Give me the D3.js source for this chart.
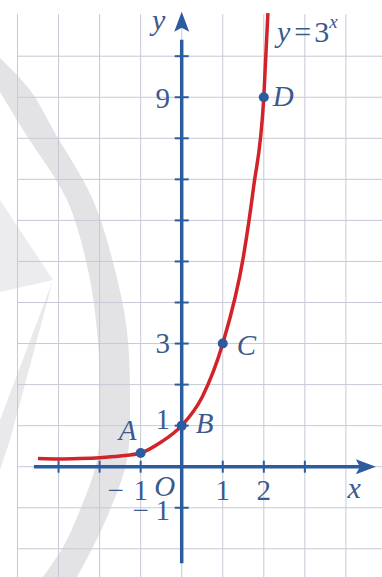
<!DOCTYPE html>
<html>
<head>
<meta charset="utf-8">
<script src="https://cdn.jsdelivr.net/npm/d3@7"></script>
<style>
  html, body { margin: 0; padding: 0; background: #fff; }
  svg { display: block; }
</style>
</head>
<body>
<svg id="chart" width="382" height="577"></svg>
<script>
// Graph of the exponential function y = 3^x on a square grid.

// Curve samples [x, y]
const curveX = [-3.5, -3, -2.5, -2, -1.5, -1, -0.5, 0, 0.5, 1, 1.5, 1.75, 2, 2.1];
const curveY = [0.2, 0.19, 0.2, 0.22, 0.26, 1 / 3, 0.6, 1, 1.7, 3, 5.1, 6.8, 9, 11.05];

// Marked points on the curve
const pointNames = ["A", "B", "C", "D"];
const pointX = [-1, 0, 1, 2];
const pointY = [1 / 3, 1, 3, 9];

// Grid and tick values
const gridX = [-4, -3, -2, -1, 0, 1, 2, 3, 4];
const gridY = [-2, -1, 0, 1, 2, 3, 4, 5, 6, 7, 8, 9, 10];
const xTicks = [-3, -2, -1, 1, 2, 3];
const yTicks = [-1, 1, 2, 3, 4, 5, 6, 7, 8, 9, 10];
const xTickLabels = ["1", "1", "2"];
const xTickLabelValues = [-1, 1, 2];
const yTickLabels = ["1", "1", "3", "9"];
const yTickLabelValues = [-1, 1, 3, 9];

const W = 382, H = 577;
const unit = 41.05;
const FONT = "'Liberation Serif', 'Times New Roman', Times, serif";
const textColor = "#3a5a8e";
const svg = d3.select("#chart").attr("font-family", FONT);

const x = d3.scaleLinear().domain([-4, 5]).range([181.7 - 4 * unit, 181.7 + 5 * unit]);
const y = d3.scaleLinear().domain([-3, 11]).range([466.7 + 3 * unit, 466.7 - 11 * unit]);

const axisColor = "#2d5b9f";
const curveColor = "#d2232a";

// --- faint background emblem ---
const emblem = svg.append("g");
const bandOuter = [[0, 58], [30, 90], [55, 133], [93, 200], [115, 270], [127, 331], [130, 400], [127, 460], [110, 510], [93, 547], [77, 577]];
const bandInner = [[0, 92], [25, 133], [67, 200], [88, 270], [97, 331], [100, 400], [97, 460], [80, 510], [63, 547], [43, 577]];
const smooth = d3.line().curve(d3.curveCatmullRom);
emblem.append("path")
  .attr("d", "M0,200L53,280L0,292Z")
  .attr("fill", "#ececee");
emblem.append("path")
  .attr("d", "M53,280L10,440L0,470L0,420Z")
  .attr("fill", "#e9e9eb");
emblem.append("path")
  .attr("d", smooth(bandOuter) + "L" + smooth(bandInner.slice().reverse()).slice(1) + "Z")
  .attr("fill", "#e3e3e5");

// --- grid ---
const grid = svg.append("g").attr("stroke", "#c6c9d6").attr("stroke-width", 1);
grid.selectAll("line.v").data(gridX).join("line")
  .attr("x1", d => x(d)).attr("x2", d => x(d))
  .attr("y1", y(11) - 1).attr("y2", H);
grid.selectAll("line.h").data(gridY).join("line")
  .attr("x1", x(-4)).attr("x2", W)
  .attr("y1", d => y(d)).attr("y2", d => y(d));

// --- axes ---
const axes = svg.append("g").attr("stroke", axisColor).attr("stroke-width", 3.5).attr("fill", "none");
axes.append("line").attr("x1", x(-3.6)).attr("x2", x(4.5)).attr("y1", y(0)).attr("y2", y(0));
axes.append("line").attr("x1", x(0)).attr("x2", x(0)).attr("y1", y(-2.35)).attr("y2", y(10.4));

const ticks = svg.append("g").attr("stroke", axisColor).attr("stroke-width", 2);
ticks.selectAll("line.xt").data(xTicks).join("line")
  .attr("x1", d => x(d)).attr("x2", d => x(d))
  .attr("y1", y(0) - 6).attr("y2", y(0) + 6);
ticks.selectAll("line.yt").data(yTicks).join("line")
  .attr("x1", x(0) - 7).attr("x2", x(0) + 7)
  .attr("y1", d => y(d)).attr("y2", d => y(d));

// arrowheads
const xTip = [x(4.73), y(0)];
svg.append("path")
  .attr("d", `M${xTip[0]},${xTip[1]} L${xTip[0] - 20},${xTip[1] - 7.5} L${xTip[0] - 16},${xTip[1]} L${xTip[0] - 20},${xTip[1] + 7.5}Z`)
  .attr("fill", axisColor);
const yTip = [x(0), y(11.08)];
svg.append("path")
  .attr("d", `M${yTip[0]},${yTip[1]} L${yTip[0] - 7.5},${yTip[1] + 20} L${yTip[0]},${yTip[1] + 16} L${yTip[0] + 7.5},${yTip[1] + 20}Z`)
  .attr("fill", axisColor);

// --- curve ---
const curveData = curveX.map((v, i) => [v, curveY[i]]);
svg.append("path")
  .datum(curveData)
  .attr("d", d3.line().x(d => x(d[0])).y(d => y(d[1])).curve(d3.curveMonotoneX))
  .attr("fill", "none")
  .attr("stroke", curveColor)
  .attr("stroke-width", 3.5);

// --- points ---
const pts = pointNames.map((n, i) => ({ name: n, x: pointX[i], y: pointY[i] }));
svg.selectAll("circle.pt").data(pts).join("circle")
  .attr("cx", d => x(d.x)).attr("cy", d => y(d.y)).attr("r", 5)
  .attr("fill", axisColor);

const labels = svg.append("g").attr("fill", textColor);

// point names: offsets relative to each point
const nameOffset = { A: [-13, -13, "middle"], B: [14, 7, "start"], C: [14, 11, "start"], D: [9, 9, "start"] };
labels.selectAll("text.pt").data(pts).join("text")
  .attr("x", d => x(d.x) + nameOffset[d.name][0])
  .attr("y", d => y(d.y) + nameOffset[d.name][1])
  .attr("text-anchor", d => nameOffset[d.name][2])
  .attr("font-size", 29).attr("font-style", "italic")
  .text(d => d.name);

// --- tick labels (minus signs set apart from the digit, as in print) ---
const yLabelShift = { "-1": 12.5, "1": 3, "3": 9.5, "9": 11 };
labels.selectAll("text.yl").data(yTickLabelValues).join("text")
  .attr("x", x(0) - 19)
  .attr("y", d => y(d) + yLabelShift[d])
  .attr("text-anchor", "middle")
  .attr("font-size", 29)
  .text((d, i) => yTickLabels[i]);
labels.selectAll("text.ym").data(yTickLabelValues.filter(d => d < 0)).join("text")
  .attr("x", x(0) - 41)
  .attr("y", d => y(d) + yLabelShift[d])
  .attr("text-anchor", "middle")
  .attr("font-size", 29)
  .text("−");

labels.selectAll("text.xl").data(xTickLabelValues).join("text")
  .attr("x", d => x(d))
  .attr("y", y(0) + 33)
  .attr("text-anchor", "middle")
  .attr("font-size", 29)
  .text((d, i) => xTickLabels[i]);
labels.selectAll("text.xm").data(xTickLabelValues.filter(d => d < 0)).join("text")
  .attr("x", d => x(d) - 25)
  .attr("y", y(0) + 33)
  .attr("text-anchor", "middle")
  .attr("font-size", 29)
  .text("−");

// origin and axis names
labels.append("text").attr("x", x(0) - 17).attr("y", y(0) + 29)
  .attr("text-anchor", "middle").attr("font-size", 29).attr("font-style", "italic").text("O");
labels.append("text").attr("x", x(4.2)).attr("y", y(0) + 31)
  .attr("text-anchor", "middle").attr("font-size", 30).attr("font-style", "italic").text("x");
labels.append("text").attr("x", x(0) - 23).attr("y", 30)
  .attr("text-anchor", "middle").attr("font-size", 30).attr("font-style", "italic").text("y");

// equation label
const eq = labels.append("text").attr("x", 277).attr("y", 42).attr("font-size", 30);
eq.append("tspan").attr("font-style", "italic").text("y");
eq.append("tspan").attr("dx", 4).text("=");
eq.append("tspan").attr("dx", 3).text("3");
eq.append("tspan").attr("font-style", "italic").attr("font-size", 19).attr("dy", -14).text("x");
</script>
</body>
</html>
